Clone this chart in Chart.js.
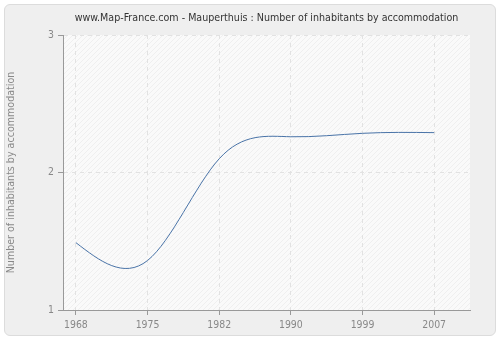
<!DOCTYPE html>
<html><head><meta charset="utf-8">
<script src="https://cdn.jsdelivr.net/npm/chart.js@4/dist/chart.umd.min.js"></script>
<style>
html,body{margin:0;padding:0;background:#fff;}
#card{position:absolute;left:4px;top:4px;width:490px;height:330px;background:#efefef;border:1px solid #dcdcdc;border-radius:6px;}
#wrap{position:absolute;left:0;top:0;width:500px;height:340px;}
</style></head>
<body>
<div id="card"></div>
<div id="wrap"><canvas id="c" width="500" height="340"></canvas></div>
<script>
const years = ["1968","1975","1982","1990","1999","2007"];
const inhabitants = [1.49, 1.36, 2.10, 2.26, 2.285, 2.29];
const yTicks = [1, 2, 3];
const titleText = 'www.Map-France.com - Mauperthuis : Number of inhabitants by accommodation';

const FONT = "'DejaVu Sans Condensed', 'DejaVu Sans', sans-serif";

// Natural cubic spline control points, computed from the library's pixel positions
const splinePlugin = {
  id: 'naturalSpline',
  beforeDatasetDraw(chart, args) {
    const meta = args.meta;
    const line = meta.dataset;
    const pts = meta.data;
    if (!line || pts.length < 3) return;
    line.updateControlPoints(chart.chartArea, 'x');
    const n = pts.length - 1;
    const xs = pts.map(p => p.x), ys = pts.map(p => p.y);
    const h = [];
    for (let i = 0; i < n; i++) h.push(xs[i + 1] - xs[i]);
    // solve for second derivatives M (natural: M0 = Mn = 0)
    const M = new Array(n + 1).fill(0);
    const a = [], b = [], c = [], d = [];
    for (let i = 1; i < n; i++) {
      a.push(h[i - 1]); b.push(2 * (h[i - 1] + h[i])); c.push(h[i]);
      d.push(6 * ((ys[i + 1] - ys[i]) / h[i] - (ys[i] - ys[i - 1]) / h[i - 1]));
    }
    const m = b.length;
    const cp = [], dp = [];
    for (let i = 0; i < m; i++) {
      const den = b[i] - (i > 0 ? a[i] * cp[i - 1] : 0);
      cp.push(c[i] / den);
      dp.push((d[i] - (i > 0 ? a[i] * dp[i - 1] : 0)) / den);
    }
    for (let i = m - 1; i >= 0; i--) {
      M[i + 1] = dp[i] - (i < m - 1 ? cp[i] * M[i + 2] : 0);
    }
    const der = [];
    for (let i = 0; i < n; i++) {
      der.push((ys[i + 1] - ys[i]) / h[i] - h[i] * (2 * M[i] + M[i + 1]) / 6);
    }
    der.push((ys[n] - ys[n - 1]) / h[n - 1] + h[n - 1] * (M[n - 1] + 2 * M[n]) / 6);
    for (let i = 0; i <= n; i++) {
      const p = pts[i];
      if (i > 0) { const k = h[i - 1] / 3; p.cp1x = xs[i] - k; p.cp1y = ys[i] - k * der[i]; }
      else { p.cp1x = xs[i]; p.cp1y = ys[i]; }
      if (i < n) { const k = h[i] / 3; p.cp2x = xs[i] + k; p.cp2y = ys[i] + k * der[i]; }
      else { p.cp2x = xs[i]; p.cp2y = ys[i]; }
    }
    line._path = undefined;
  }
};

const bgPlugin = {
  id: 'plotbg',
  beforeDraw(chart) {
    const {ctx, chartArea: a} = chart;
    ctx.save();
    ctx.fillStyle = '#fafafa';
    ctx.fillRect(a.left, a.top, a.right - a.left, a.bottom - a.top);
    ctx.beginPath();
    ctx.rect(a.left, a.top, a.right - a.left, a.bottom - a.top);
    ctx.clip();
    ctx.strokeStyle = '#efefef';
    ctx.lineWidth = 1;
    const h = a.bottom - a.top;
    for (let x = a.left - h; x < a.right + h; x += 5) {
      ctx.beginPath();
      ctx.moveTo(x, a.bottom);
      ctx.lineTo(x + h, a.top);
      ctx.stroke();
    }
    ctx.restore();
  },
  afterDraw(chart) {
    const {ctx, chartArea: a} = chart;
    ctx.save();
    ctx.font = "10.6px " + FONT;
    ctx.fillStyle = '#333';
    ctx.textAlign = 'center';
    ctx.textBaseline = 'middle';
    ctx.fillText(titleText, (a.left + a.right) / 2, 18);
    ctx.restore();
  }
};

new Chart(document.getElementById('c'), {
  type: 'line',
  data: {
    datasets: [{
      data: inhabitants.map((v, i) => ({x: i, y: v})),
      borderColor: '#4a74a8',
      borderWidth: 1,
      pointRadius: 0,
      tension: 0.4,
      capBezierPoints: false,
      fill: false
    }]
  },
  options: {
    responsive: false,
    animation: false,
    layout: {padding: {left: 5, right: 30, top: 35, bottom: 5}},
    plugins: {
      legend: {display: false},
      tooltip: {enabled: false},
      title: {display: false}
    },
    scales: {
      x: {
        type: 'linear',
        min: -0.18,
        max: 5.5,
        afterBuildTicks: (axis) => { axis.ticks = years.map((_, i) => ({value: i})); },
        afterFit: (axis) => { axis.height = 25; },
        ticks: {
          callback: (v) => years[v],
          color: '#888',
          font: {family: FONT, size: 10.4},
          padding: 4,
          maxRotation: 0
        },
        grid: {
          color: '#e2e2e2',
          tickColor: '#999',
          tickLength: 5,
          drawOnChartArea: true
        },
        border: {display: true, color: '#999', dash: [4, 4]}
      },
      y: {
        min: 1,
        max: 3,
        afterBuildTicks: (axis) => { axis.ticks = yTicks.map(v => ({value: v})); },
        afterFit: (axis) => { axis.width = 58; },
        ticks: {
          color: '#888',
          font: {family: FONT, size: 10.4},
          padding: 4
        },
        grid: {
          color: '#e2e2e2',
          tickColor: '#999',
          tickLength: 5
        },
        border: {display: true, color: '#999', dash: [4, 4]},
        title: {
          display: true,
          text: 'Number of inhabitants by accommodation',
          color: '#888',
          font: {family: FONT, size: 10.6},
          padding: {top: 0, bottom: 4}
        }
      }
    }
  },
  plugins: [bgPlugin, splinePlugin]
});
</script>
</body></html>
